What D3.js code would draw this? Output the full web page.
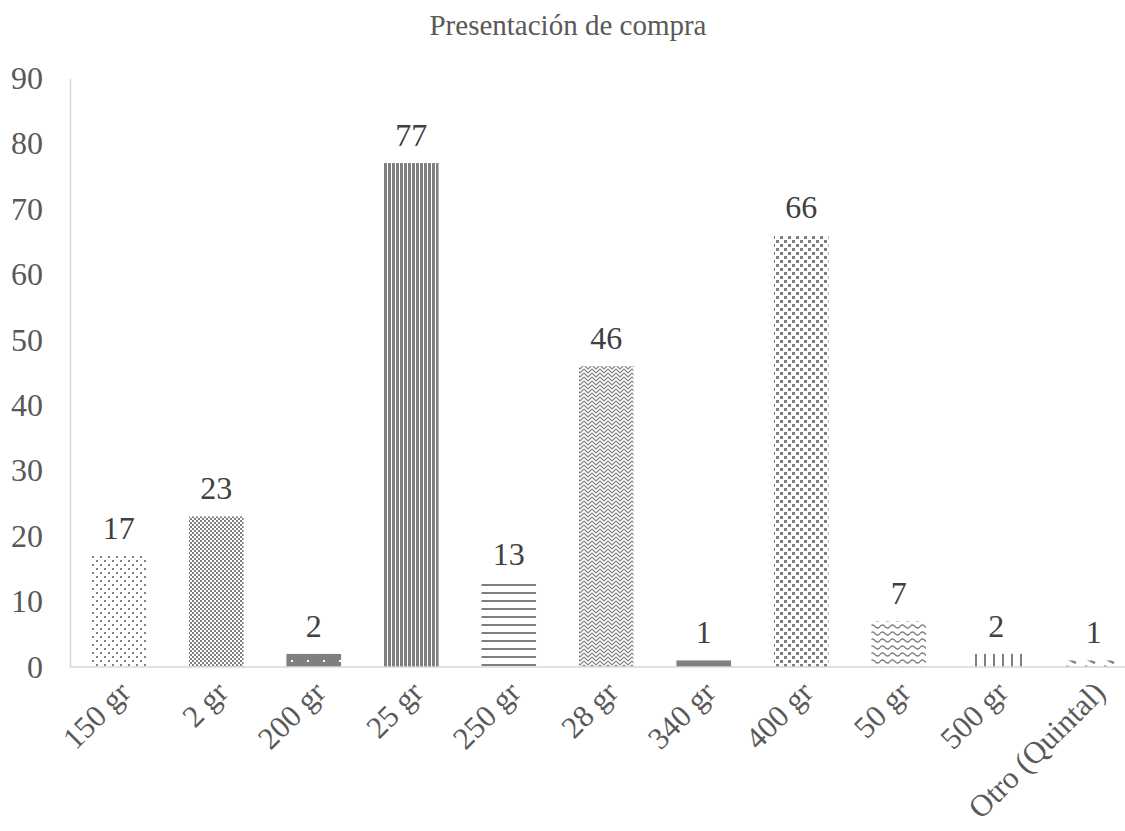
<!DOCTYPE html>
<html>
<head>
<meta charset="utf-8">
<script src="https://cdn.jsdelivr.net/npm/d3@7"></script>
<style>
  body { margin: 0; background: #fff; }
  text { font-family: "Liberation Serif", "Times New Roman", serif; }
</style>
</head>
<body>
<svg id="chart" width="1125" height="831"></svg>
<script>
// chart data
var categories = ["150 gr", "2 gr", "200 gr", "25 gr", "250 gr", "28 gr", "340 gr", "400 gr", "50 gr", "500 gr", "Otro (Quintal)"];
var values = [17, 23, 2, 77, 13, 46, 1, 66, 7, 2, 1];
var yTicks = [0, 10, 20, 30, 40, 50, 60, 70, 80, 90];
var title = "Presentación de compra";

var svg = d3.select("#chart"),
    ink = "#7f7f7f",
    fontSize = 32,
    margin = {left: 70, top: 78, bottom: 164};

var x = d3.scaleBand()
    .domain(categories)
    .range([margin.left, margin.left + 97.5 * categories.length])
    .paddingInner(0.44)
    .paddingOuter(0.22);

var y = d3.scaleLinear()
    .domain([0, 90])
    .range([831 - margin.bottom, margin.top]);

// hatch patterns, one per bar
var defs = svg.append("defs");

function pattern(id, w, h, draw) {
    var p = defs.append("pattern")
        .attr("id", id)
        .attr("patternUnits", "userSpaceOnUse")
        .attr("width", w)
        .attr("height", h);
    draw(p);
}

function square(p, x0, y0, s, fill) {
    p.append("rect").attr("x", x0).attr("y", y0).attr("width", s).attr("height", s).attr("fill", fill || ink);
}

pattern("p0", 8, 8, function(p) {
    square(p, 0, 0, 2);
    square(p, 4, 4, 2);
});
pattern("p1", 4, 4, function(p) {
    square(p, 0, 0, 2);
    square(p, 2, 2, 2);
});
pattern("p2", 16, 8, function(p) {
    p.append("rect").attr("width", 16).attr("height", 8).attr("fill", ink);
    square(p, 3, 4, 2, "#fff");
});
pattern("p3", 4, 4, function(p) {
    p.append("rect").attr("width", 3).attr("height", 4).attr("fill", ink);
});
pattern("p4", 8, 8, function(p) {
    p.append("rect").attr("width", 8).attr("height", 2).attr("fill", ink);
});
pattern("p5", 8, 8, function(p) {
    p.append("path").attr("d", "M0,1 L4,5 L8,1 M0,5 L4,9 L8,5 M0,-3 L4,1 L8,-3")
        .attr("fill", "none").attr("stroke", ink).attr("stroke-width", 1.2);
});
pattern("p6", 8, 8, function(p) {
    p.append("rect").attr("width", 8).attr("height", 8).attr("fill", ink);
    square(p, 0, 3, 1, "#bbb");
});
pattern("p7", 8, 8, function(p) {
    square(p, 0, 0, 3);
    square(p, 4, 4, 3);
});
pattern("p8", 10, 7, function(p) {
    p.append("path").attr("d", "M0,3.5 Q2.5,0.5 5,3.5 T10,3.5")
        .attr("fill", "none").attr("stroke", ink).attr("stroke-width", 1.3);
});
pattern("p9", 9, 8, function(p) {
    p.append("rect").attr("x", 3).attr("width", 2).attr("height", 8).attr("fill", ink);
});
pattern("p10", 19, 8, function(p) {
    p.append("path").attr("d", "M2,2 L12,7")
        .attr("fill", "none").attr("stroke", ink).attr("stroke-width", 2.5);
});

// title
svg.append("text")
    .attr("x", 568)
    .attr("y", 35)
    .attr("text-anchor", "middle")
    .attr("font-size", 29)
    .attr("fill", "#595959")
    .text(title);

// y axis
var yAxis = svg.append("g")
    .attr("transform", "translate(" + margin.left + ",0)")
    .call(d3.axisLeft(y).tickValues(yTicks).tickSize(0).tickPadding(27));
yAxis.select(".domain").attr("stroke", "#d9d9d9").attr("stroke-width", 1.5);
yAxis.selectAll("text")
    .attr("font-family", "Liberation Serif, Times New Roman, serif")
    .attr("font-size", fontSize)
    .attr("fill", "#595959");

// bars
svg.append("g").selectAll("rect")
    .data(values)
    .enter().append("rect")
    .attr("x", function(d, i) { return x(categories[i]); })
    .attr("y", function(d) { return y(d); })
    .attr("width", x.bandwidth())
    .attr("height", function(d) { return y(0) - y(d); })
    .attr("fill", function(d, i) { return "url(#p" + i + ")"; });

// x axis line
svg.append("line")
    .attr("x1", margin.left)
    .attr("x2", 1125)
    .attr("y1", y(0))
    .attr("y2", y(0))
    .attr("stroke", "#d9d9d9")
    .attr("stroke-width", 1.5);

// value labels
svg.append("g").selectAll("text")
    .data(values)
    .enter().append("text")
    .attr("x", function(d, i) { return x(categories[i]) + x.bandwidth() / 2; })
    .attr("y", function(d) { return y(d) - 17; })
    .attr("text-anchor", "middle")
    .attr("font-size", fontSize)
    .attr("fill", "#404040")
    .text(function(d) { return d; });

// category labels, rotated
svg.append("g").selectAll("text")
    .data(categories)
    .enter().append("text")
    .attr("transform", function(d) {
        return "translate(" + (x(d) + x.bandwidth() / 2 - 2) + "," + (y(0) + 12) + ") rotate(-45)";
    })
    .attr("text-anchor", "end")
    .attr("dy", "0.7em")
    .attr("font-size", 31)
    .attr("fill", "#595959")
    .text(function(d) { return d; });
</script>
</body>
</html>
